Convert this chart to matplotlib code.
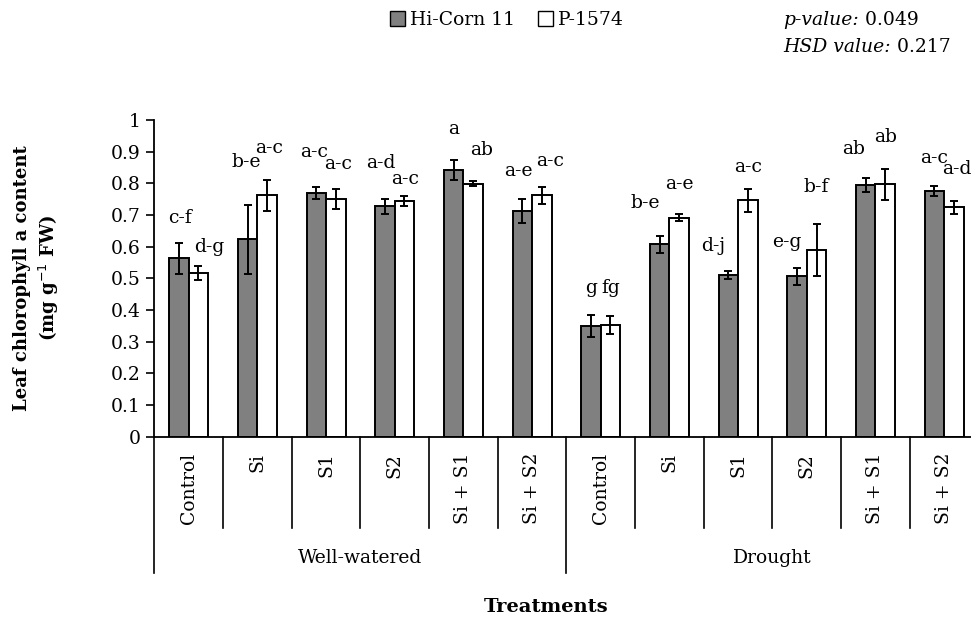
import matplotlib
matplotlib.use("Agg")
import matplotlib.pyplot as plt
import matplotlib.transforms as mtransforms
from matplotlib.patches import Patch
import numpy as np

# ---------------- data ----------------
treatments = ["Control", "Si", "S1", "S2", "Si + S1", "Si + S2"]
groups = ["Well-watered", "Drought"]
series_names = ["Hi-Corn 11", "P-1574"]

hicorn_vals = [0.563, 0.623, 0.770, 0.727, 0.842, 0.713,
               0.350, 0.607, 0.511, 0.506, 0.795, 0.775]
hicorn_err = [0.048, 0.110, 0.018, 0.024, 0.032, 0.037,
              0.034, 0.026, 0.012, 0.026, 0.023, 0.016]
p1574_vals = [0.518, 0.762, 0.750, 0.745, 0.799, 0.762,
              0.353, 0.692, 0.746, 0.590, 0.797, 0.724]
p1574_err = [0.022, 0.050, 0.032, 0.015, 0.008, 0.026,
             0.028, 0.012, 0.035, 0.083, 0.049, 0.021]

hicorn_letters = ["c-f", "b-e", "a-c", "a-d", "a", "a-e",
                  "g", "b-e", "d-j", "e-g", "ab", "a-c"]
p1574_letters = ["d-g", "a-c", "a-c", "a-c", "ab", "a-c",
                 "fg", "a-e", "a-c", "b-f", "ab", "a-d"]

yticks = [0, 0.1, 0.2, 0.3, 0.4, 0.5, 0.6, 0.7, 0.8, 0.9, 1]
ytick_labels = ["0", "0.1", "0.2", "0.3", "0.4", "0.5", "0.6", "0.7", "0.8", "0.9", "1"]

# ---------------- label placement (style) ----------------
# vertical offset above error bar (data units), horizontal shift (pixels)
hi_lab_dy = [0.079, 0.134, 0.112, 0.114, 0.097, 0.089,
             0.085, 0.106, 0.079, 0.084, 0.089, 0.088]
hi_lab_dx = [1, -1.5, -2, -4, 0, -4.3, 0, -14.7, -15, -10.3, -12.5, 0]
p_lab_dy = [0.060, 0.100, 0.080, 0.054, 0.098, 0.083,
            0.088, 0.094, 0.072, 0.116, 0.101, 0.100]
p_lab_dx = [10.6, 2, 2, 0.6, 8.8, 8.4, 0, 0, 0, 0, 0, 2.7]

FONT = "DejaVu Serif"
plt.rcParams["font.family"] = FONT

W, H = 971, 620
fig = plt.figure(figsize=(W / 100, H / 100), dpi=100)
ax_left, ax_right, ax_top, ax_bot = 154.3, 978.5, 120.0, 436.7
ax = fig.add_axes([ax_left / W, 1 - ax_bot / H, (ax_right - ax_left) / W, (ax_bot - ax_top) / H])

n = len(hicorn_vals)
x = np.arange(n)
bw = 0.284
gray = "#808080"

ekw = dict(ecolor="black", elinewidth=1.4, capsize=3.2, capthick=1.4)
ax.bar(x - bw / 2, hicorn_vals, bw, yerr=hicorn_err, color=gray, edgecolor="black",
       linewidth=1.4, error_kw=ekw, zorder=2)
ax.bar(x + bw / 2, p1574_vals, bw, yerr=p1574_err, color="white", edgecolor="black",
       linewidth=1.4, error_kw=ekw, zorder=2)

px_per_unit = (ax_right - ax_left) / 12.0
for i in range(n):
    ax.text(x[i] - bw / 2 + hi_lab_dx[i] / px_per_unit, hicorn_vals[i] + hicorn_err[i] + hi_lab_dy[i],
            hicorn_letters[i], ha="center", va="center", fontsize=13.5)
    ax.text(x[i] + bw / 2 + p_lab_dx[i] / px_per_unit, p1574_vals[i] + p1574_err[i] + p_lab_dy[i],
            p1574_letters[i], ha="center", va="center", fontsize=13.5)

ax.set_xlim(-0.5, n - 0.5)
ax.set_ylim(0, 1)
ax.set_yticks(yticks)
ax.set_yticklabels(ytick_labels, fontsize=13.5)
ax.tick_params(axis="y", direction="out", length=6, width=1.2, pad=4)
ax.set_xticks([])
for s in ["top", "right"]:
    ax.spines[s].set_visible(False)
ax.spines["left"].set_linewidth(1.3)
ax.spines["bottom"].set_linewidth(1.3)

# multi-level category axis
trans = mtransforms.blended_transform_factory(ax.transData, ax.transAxes)
axh = ax_bot - ax_top
short_y = -(528 - ax_bot) / axh
long_y = -(573 - ax_bot) / axh
for k in range(n + 1):
    xb = k - 0.5
    yend = long_y if k % 6 == 0 else short_y
    ax.plot([xb, xb], [0, yend], color="black", lw=1.2, transform=trans, clip_on=False)

cat_y = -(452.7 - ax_bot) / axh
for i in range(n):
    ax.text(x[i], cat_y, treatments[i % 6], rotation=90, ha="center", va="top",
            fontsize=13.5, transform=trans)
grp_y = -(558 - ax_bot) / axh
for g, name in enumerate(groups):
    ax.text(2.5 + 6 * g, grp_y, name, ha="center", va="center", fontsize=13.5, transform=trans)

# axis titles
fig.text(546 / W, 1 - 607 / H, "Treatments", ha="center", va="center",
         fontsize=14, fontweight="bold")
fig.text(37 / W, 1 - 278 / H, "Leaf chlorophyll a content\n(mg g$^{-1}$ FW)", ha="center",
         va="center", rotation=90, fontsize=13, fontweight="bold", linespacing=1.3)

# legend
handles = [Patch(facecolor=gray, edgecolor="black", linewidth=1.0),
           Patch(facecolor="white", edgecolor="black", linewidth=1.0)]
fig.legend(handles, series_names, loc="center", bbox_to_anchor=(507 / W, 1 - 20 / H),
           ncol=2, frameon=False, fontsize=13.5, handlelength=0.8, handleheight=0.8,
           handletextpad=0.3, columnspacing=1.2, borderpad=0)

# p-value annotation
t1 = fig.text(783 / W, 1 - 20 / H, "p-value:", style="italic", ha="left", va="center", fontsize=13.5)
ax.annotate(" 0.049", xy=(1, 0.5), xycoords=t1, ha="left", va="center", fontsize=13.5,
            annotation_clip=False)
t2 = fig.text(783 / W, 1 - 46.7 / H, "HSD value:", style="italic", ha="left", va="center", fontsize=13.5)
ax.annotate(" 0.217", xy=(1, 0.5), xycoords=t2, ha="left", va="center", fontsize=13.5,
            annotation_clip=False)

fig.savefig("out.png", dpi=100)
